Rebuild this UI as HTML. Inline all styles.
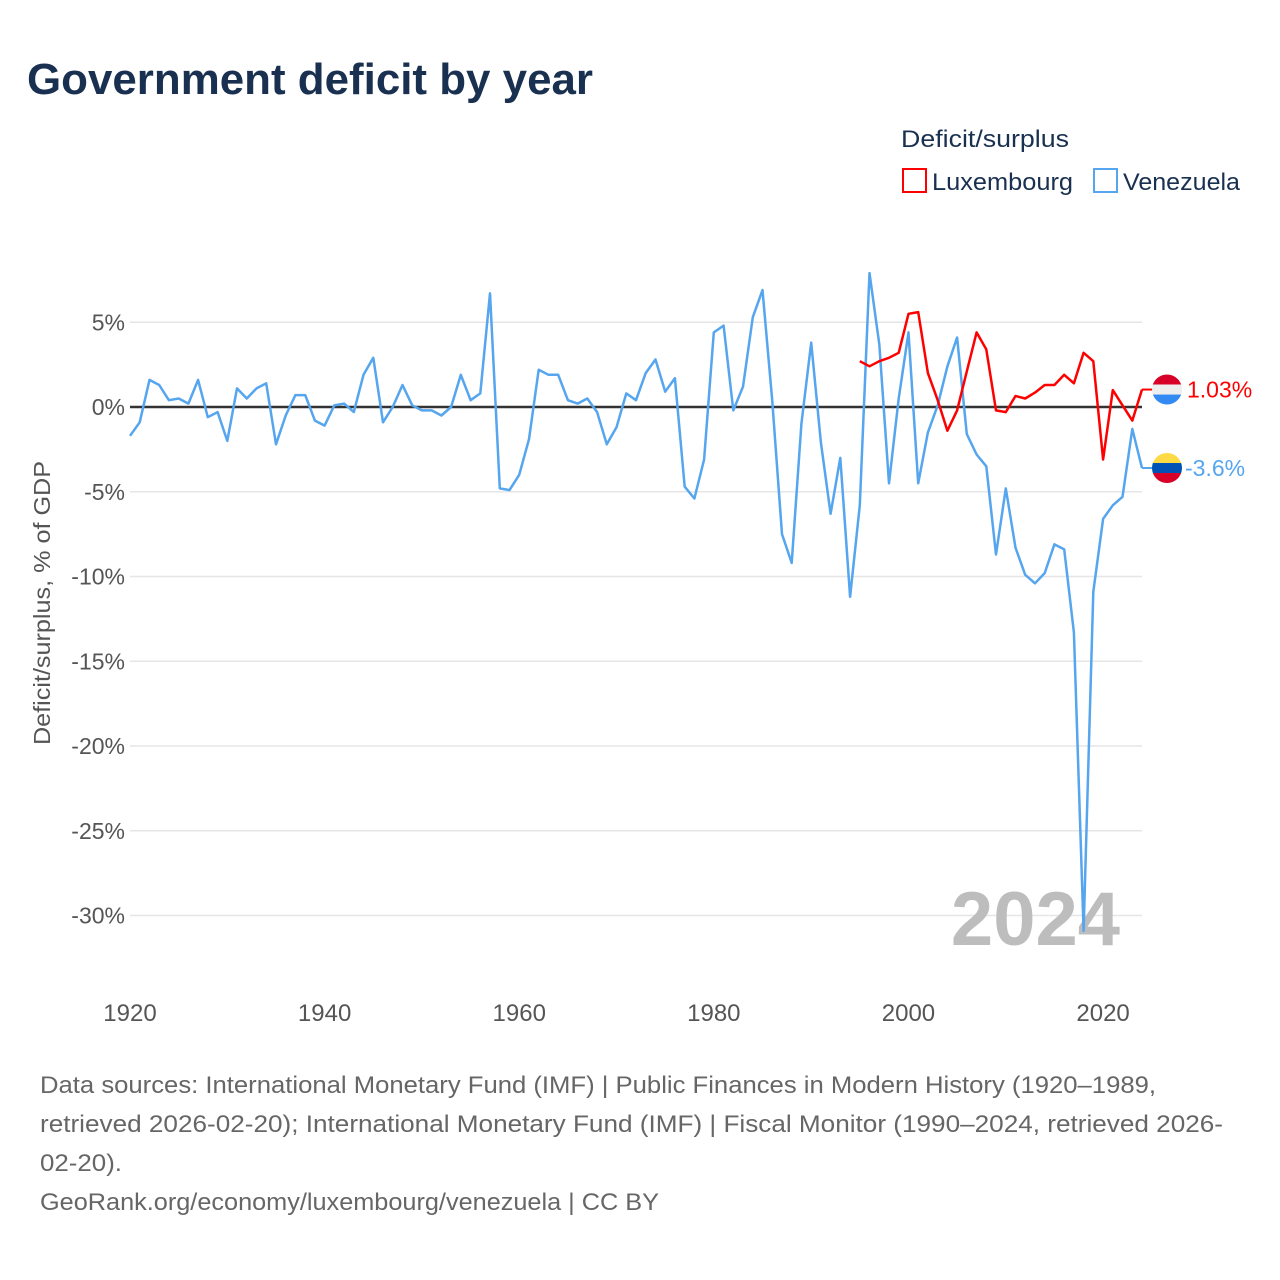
<!DOCTYPE html>
<html><head><meta charset="utf-8"><style>
html,body{margin:0;padding:0;background:#fff;}
svg{display:block;font-family:"Liberation Sans",sans-serif;}
</style></head><body>
<svg id="chart" width="1280" height="1280" viewBox="0 0 1280 1280">
<text x="27" y="94" font-size="44" font-weight="bold" fill="#1a3050" textLength="566" lengthAdjust="spacingAndGlyphs">Government deficit by year</text>
<text x="901" y="147" font-size="24" fill="#1a3050" textLength="168" lengthAdjust="spacingAndGlyphs">Deficit/surplus</text>
<g>
<rect x="903" y="169" width="23" height="23" fill="none" stroke="#ff0000" stroke-width="2"/>
<text x="932" y="190" font-size="24" fill="#1a3050" textLength="141" lengthAdjust="spacingAndGlyphs">Luxembourg</text>
</g>
<g>
<rect x="1094" y="169" width="23" height="23" fill="none" stroke="#55a5ef" stroke-width="2"/>
<text x="1123" y="190" font-size="24" fill="#1a3050" textLength="117" lengthAdjust="spacingAndGlyphs">Venezuela</text>
</g>
<g id="grid"></g>
<g id="yticks"></g>
<g id="xticks"></g>
<text transform="translate(50,603) rotate(-90)" text-anchor="middle" font-size="23" fill="#555" textLength="284" lengthAdjust="spacingAndGlyphs">Deficit/surplus, % of GDP</text>
<text x="1120" y="945" text-anchor="end" font-size="76" font-weight="bold" fill="#bdbdbd">2024</text>
<g id="series"></g>
<g id="endlabels"></g>
<g font-size="24" fill="#666">
<text x="40" y="1093" textLength="1116" lengthAdjust="spacingAndGlyphs">Data sources: International Monetary Fund (IMF) | Public Finances in Modern History (1920–1989,</text>
<text x="40" y="1132" textLength="1183" lengthAdjust="spacingAndGlyphs">retrieved 2026-02-20); International Monetary Fund (IMF) | Fiscal Monitor (1990–2024, retrieved 2026-</text>
<text x="40" y="1171" textLength="82" lengthAdjust="spacingAndGlyphs">02-20).</text>
<text x="40" y="1210" textLength="619" lengthAdjust="spacingAndGlyphs">GeoRank.org/economy/luxembourg/venezuela | CC BY</text>
</g>
</svg>
<script>
const yTicks = [5, 0, -5, -10, -15, -20, -25, -30];
const xTicks = [1920, 1940, 1960, 1980, 2000, 2020];
const venStart = 1920;
const venezuela = [-1.7,-0.9,1.6,1.3,0.4,0.5,0.2,1.6,-0.6,-0.3,-2.0,1.1,0.5,1.1,1.4,-2.2,-0.5,0.7,0.7,-0.8,-1.1,0.1,0.2,-0.3,1.9,2.9,-0.9,0.0,1.3,0.1,-0.2,-0.2,-0.5,0.0,1.9,0.4,0.8,6.7,-4.8,-4.9,-4.0,-1.9,2.2,1.9,1.9,0.4,0.2,0.5,-0.3,-2.2,-1.2,0.8,0.4,2.0,2.8,0.9,1.7,-4.7,-5.4,-3.1,4.4,4.8,-0.2,1.2,5.3,6.9,0.4,-7.5,-9.2,-1.0,3.8,-2.1,-6.3,-3.0,-11.2,-5.8,7.9,3.7,-4.5,0.5,4.4,-4.5,-1.5,0.1,2.4,4.1,-1.6,-2.8,-3.5,-8.7,-4.8,-8.3,-9.9,-10.4,-9.8,-8.1,-8.4,-13.3,-30.9,-10.9,-6.6,-5.8,-5.3,-1.3,-3.6];
const luxStart = 1995;
const luxembourg = [2.7,2.4,2.7,2.9,3.2,5.5,5.6,2.0,0.4,-1.4,-0.2,2.1,4.4,3.4,-0.2,-0.3,0.65,0.5,0.85,1.3,1.3,1.9,1.4,3.2,2.7,-3.1,1.0,0.1,-0.8,1.03];
const endLabels = ["1.03%", "-3.6%"];

const NS = "http://www.w3.org/2000/svg";
const X0 = 130, X1 = 1142, Y0 = 407, PX = 16.95;
const xs = y => X0 + (y - 1920) * (X1 - X0) / 104;
const ys = v => Y0 - v * PX;
function mk(tag, attrs, parent){const e=document.createElementNS(NS,tag);for(const k in attrs)e.setAttribute(k,attrs[k]);parent.appendChild(e);return e;}

const grid=document.getElementById('grid'), yt=document.getElementById('yticks'), xt=document.getElementById('xticks');
yTicks.forEach(t=>{
  if(t!==0){const g=mk('line',{x1:X0,x2:X1,y1:ys(t),y2:ys(t),stroke:'#e6e6e6','stroke-width':1.5},grid);
  
  }
  const l=mk('text',{x:125,y:ys(t)+8,'text-anchor':'end','font-size':23,fill:'#555'},yt);
  l.textContent=t+'%';
  
  
});
const zl=mk('line',{x1:X0,x2:X1,y1:ys(0),y2:ys(0),stroke:'#333','stroke-width':2.5},grid);


xTicks.forEach(t=>{
  const l=mk('text',{x:xs(t),y:1021,'text-anchor':'middle','font-size':24,fill:'#555'},xt);
  l.textContent=t;
  
  
});
const sg=document.getElementById('series');
function line(vals,start,color,name){
  const d=vals.map((v,i)=>(i?'L':'M')+xs(start+i).toFixed(1)+','+ys(v).toFixed(1)).join(' ');
  const p=mk('path',{d:d,fill:'none',stroke:color,'stroke-width':2.5,'stroke-linejoin':'round'},sg);
  
  
}
line(venezuela,venStart,'#55a5ef','line-venezuela');
line(luxembourg,luxStart,'#ff0000','line-luxembourg');

const el=document.getElementById('endlabels');
const lastL=luxembourg[luxembourg.length-1], lastV=venezuela[venezuela.length-1];
const cx=1167;
let yL=ys(lastL);
mk('line',{x1:X1,x2:cx-14,y1:yL,y2:yL,stroke:'#ff0000','stroke-width':2},el);
const fl=mk('g',{},el);


mk('clipPath',{id:'cl1'},fl);
mk('circle',{cx:cx,cy:yL,r:15},document.getElementById('cl1'));
mk('rect',{x:cx-15,y:yL-15,width:30,height:10,fill:'#d80027','clip-path':'url(#cl1)'},fl);
mk('rect',{x:cx-15,y:yL-5,width:30,height:10,fill:'#eee','clip-path':'url(#cl1)'},fl);
mk('rect',{x:cx-15,y:yL+5,width:30,height:10,fill:'#338af3','clip-path':'url(#cl1)'},fl);
const tL=mk('text',{x:1187,y:yL+8,'font-size':23,fill:'#ff0000'},el);
tL.textContent=endLabels[0];


let yV=ys(lastV);
mk('line',{x1:X1,x2:cx-14,y1:yV,y2:yV,stroke:'#55a5ef','stroke-width':2},el);
const fv=mk('g',{},el);


mk('clipPath',{id:'cl2'},fv);
mk('circle',{cx:cx,cy:yV,r:15},document.getElementById('cl2'));
mk('rect',{x:cx-15,y:yV-15,width:30,height:10,fill:'#ffda44','clip-path':'url(#cl2)'},fv);
mk('rect',{x:cx-15,y:yV-5,width:30,height:10,fill:'#0052b4','clip-path':'url(#cl2)'},fv);
mk('rect',{x:cx-15,y:yV+5,width:30,height:10,fill:'#d80027','clip-path':'url(#cl2)'},fv);
const tV=mk('text',{x:1185,y:yV+8,'font-size':23,fill:'#55a5ef'},el);
tV.textContent=endLabels[1];


</script>
</body></html>
